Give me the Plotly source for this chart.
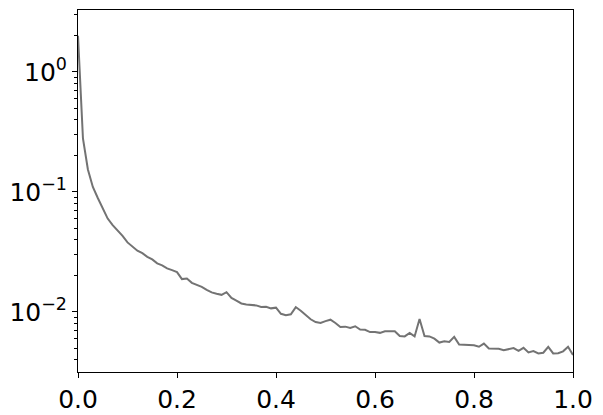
import numpy as np
import plotly.graph_objects as go

# x positions (0.00 .. 1.00 in steps of 0.01)
x_vals = [i / 100 for i in range(101)]

# series values
y_vals = [
    2.0, 0.28, 0.154, 0.110, 0.089, 0.074, 0.060, 0.053, 0.048, 0.043,
    0.038, 0.035, 0.0324, 0.0309, 0.0288, 0.0274, 0.0254, 0.0245, 0.0231, 0.0223,
    0.0215, 0.0188, 0.0190, 0.0175, 0.0168, 0.0162, 0.0153, 0.01456, 0.0142, 0.0139,
    0.01462, 0.0131, 0.01245, 0.01178, 0.01156, 0.01145, 0.01135, 0.01099, 0.01107, 0.01072,
    0.01086, 0.00966, 0.0094, 0.00957, 0.01099, 0.01023, 0.0094, 0.0087, 0.00824, 0.0081,
    0.0084, 0.00863, 0.0081, 0.0075, 0.00755, 0.00736, 0.0076, 0.00713, 0.0071, 0.0068,
    0.0068, 0.0067, 0.00692, 0.00692, 0.0069, 0.0063, 0.00626, 0.0067, 0.00626, 0.00873,
    0.0063, 0.00626, 0.0060, 0.00556, 0.0057, 0.00563, 0.0062, 0.00535, 0.00534, 0.00532,
    0.00528, 0.00513, 0.00545, 0.00497, 0.00497, 0.00494, 0.00481, 0.0049, 0.0050, 0.00475,
    0.00503, 0.0046, 0.00472, 0.00452, 0.00458, 0.00513, 0.00452, 0.00453, 0.0047, 0.00513,
    0.00438,
]

x_tick_vals = [0.0, 0.2, 0.4, 0.6, 0.8, 1.0]
x_tick_text = ["0.0", "0.2", "0.4", "0.6", "0.8", "1.0"]
y_tick_vals = [1, 0.1, 0.01]
y_tick_text = ["10<sup>0</sup>", "10<sup>−1</sup>", "10<sup>−2</sup>"]
y_minor_vals = [m * 10.0 ** e for e in (-3, -2, -1, 0) for m in range(2, 10)]

fig = go.Figure()
fig.add_trace(go.Scatter(
    x=x_vals, y=y_vals, mode="lines",
    line=dict(color="#737373", width=2),
    showlegend=False,
))

axis_common = dict(
    showline=True, linecolor="black", linewidth=1, mirror=True,
    showgrid=False, zeroline=False,
    ticks="outside", tickcolor="black", ticklen=5, tickwidth=1,
    tickfont=dict(family="DejaVu Sans", size=25, color="black"),
)

fig.update_xaxes(
    range=[0, 1], tickmode="array", tickvals=x_tick_vals, ticktext=x_tick_text,
    **axis_common,
)
fig.update_yaxes(
    type="log", range=[-2.5, 0.516], tickmode="array",
    tickvals=y_tick_vals, ticktext=y_tick_text,
    minor=dict(ticks="outside", ticklen=3, tickcolor="black", tickwidth=1,
               tickmode="array", tickvals=y_minor_vals, showgrid=False),
    **axis_common,
)

# the page body has an 8px margin, so the figure is offset by 8px
fig.update_layout(
    width=595, height=407,
    margin=dict(l=68, r=30, t=1, b=36),
    paper_bgcolor="white", plot_bgcolor="white",
)

fig.write_html("out.html")
